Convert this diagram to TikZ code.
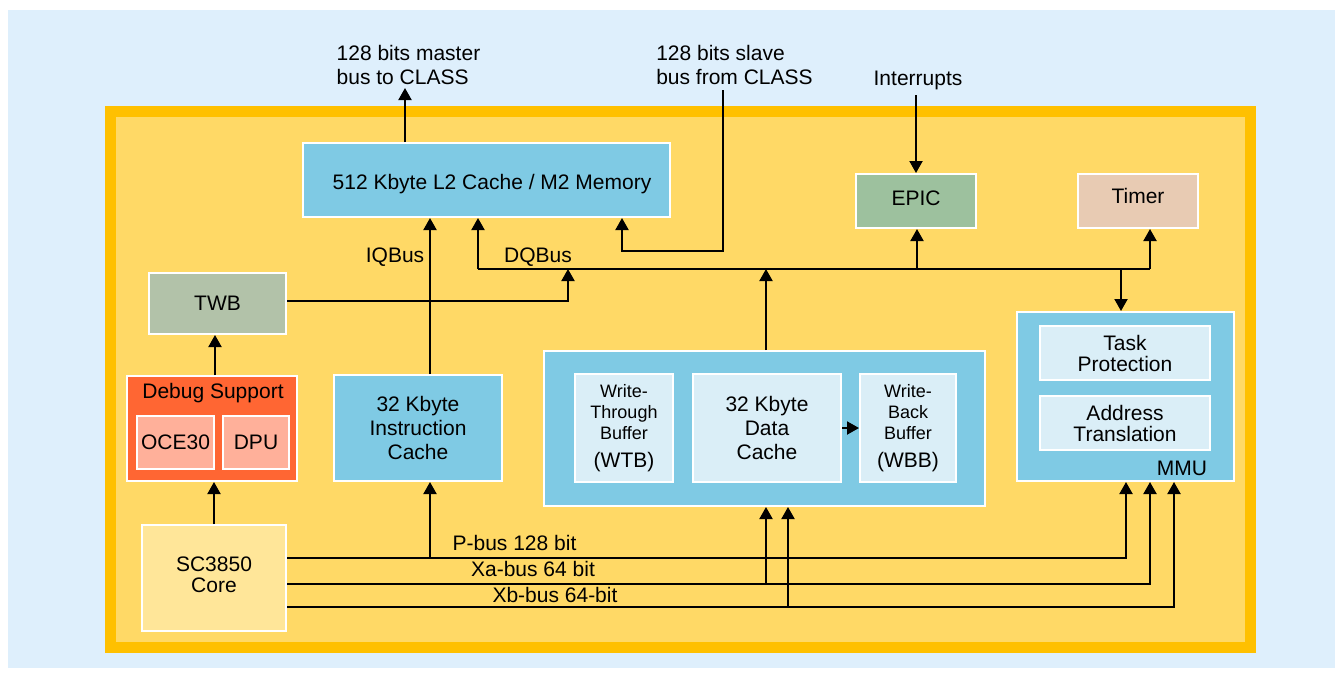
\documentclass[tikz,border=0pt]{standalone}
\usepackage{fontspec}
\setmainfont{Liberation Sans}
\usetikzlibrary{arrows.meta}
\definecolor{bgblue}{RGB}{222,239,252}
\definecolor{orangeb}{RGB}{255,192,0}
\definecolor{yellowin}{RGB}{255,217,102}
\definecolor{boxblue}{RGB}{127,202,228}
\definecolor{lightbox}{RGB}{218,238,247}
\definecolor{epicgreen}{RGB}{157,193,158}
\definecolor{timerc}{RGB}{232,203,179}
\definecolor{twbc}{RGB}{178,194,169}
\definecolor{debugc}{RGB}{255,102,51}
\definecolor{debugin}{RGB}{255,176,154}
\definecolor{corec}{RGB}{255,230,153}
\begin{document}
\begin{tikzpicture}[x=1pt,y=-1pt,
  box/.style={draw=white, line width=2pt, inner sep=0pt, align=center, font=\fontsize{21}{24}\selectfont},
  conn/.style={line width=2pt, -{Triangle[width=13pt,length=12pt]}},
  wire/.style={line width=2pt},
  lbl/.style={inner sep=0pt, font=\fontsize{21}{24}\selectfont, align=center}]
\useasboundingbox (0,0) rectangle (1341,673);
\fill[white] (0,0) rectangle (1341,673);
\fill[bgblue] (8,10) rectangle (1335,668);
\fill[orangeb] (105,106) rectangle (1256,653);
\fill[yellowin] (116,117) rectangle (1245,642);

% boxes
\node[box, fill=boxblue, minimum width=367pt, minimum height=74pt, text height=19pt, text depth=0pt] (L2) at (486.5,180) {\hspace*{11pt}512 Kbyte L2 Cache / M2 Memory};
\node[box, fill=epicgreen, minimum width=120pt, minimum height=54pt, text height=15pt, text depth=6pt] (EPIC) at (916,201) {EPIC};
\node[box, fill=timerc, minimum width=120pt, minimum height=54pt, text height=15pt, text depth=10pt] (Timer) at (1138,201) {Timer};
\node[box, fill=twbc, minimum width=137pt, minimum height=61pt] (TWB) at (217.5,303.5) {TWB};
\node[box, fill=debugc, minimum width=170pt, minimum height=105pt] (DBG) at (212,428.5) {};
\node[lbl] (DBGt) at (213,393) {Debug Support};
\node[box, fill=debugin, minimum width=77pt, minimum height=53pt] (OCE) at (175.5,442.5) {OCE30};
\node[box, fill=debugin, minimum width=66pt, minimum height=53pt] (DPU) at (256,442.5) {DPU};
\node[box, fill=boxblue, minimum width=168pt, minimum height=106pt] (IC) at (418,428) {32 Kbyte\\Instruction\\Cache};
\node[box, fill=boxblue, minimum width=441pt, minimum height=155pt] (DG) at (764.5,428.5) {};
\node[box, fill=lightbox, minimum width=98pt, minimum height=108pt, font=\fontsize{18}{21}\selectfont] (WTB) at (624,428) {Write-\\Through\\Buffer\\[7pt]{\fontsize{21}{24}\selectfont (WTB)}};
\node[box, fill=lightbox, minimum width=148pt, minimum height=108pt] (DC) at (767,428) {32 Kbyte\\Data\\Cache};
\node[box, fill=lightbox, minimum width=96pt, minimum height=108pt, font=\fontsize{18}{21}\selectfont] (WBB) at (908,428) {Write-\\Back\\Buffer\\[7pt]{\fontsize{21}{24}\selectfont (WBB)}};
\node[box, fill=boxblue, minimum width=217pt, minimum height=169pt] (MMU) at (1125.5,396.5) {};
\node[box, fill=lightbox, minimum width=170pt, minimum height=54pt, font=\fontsize{21}{21}\selectfont] (TP) at (1125,353) {Task\\Protection};
\node[box, fill=lightbox, minimum width=170pt, minimum height=54pt, font=\fontsize{21}{21}\selectfont] (AT) at (1125,423) {Address\\Translation};
\node[lbl] (MMUt) at (1182,468) {MMU};
\node[box, fill=corec, minimum width=144pt, minimum height=106pt, font=\fontsize{21}{21}\selectfont, text depth=6pt] (Core) at (214,578) {SC3850\\Core};

% labels
\node[lbl, align=left] (lm) at (408.5,65) {128 bits master\\bus to CLASS};
\node[lbl, align=left] (ls) at (734.5,65) {128 bits slave\\bus from CLASS};
\node[lbl] (li) at (918,80) {Interrupts};
\node[lbl] (liq) at (395,257) {IQBus};
\node[lbl] (ldq) at (538,257) {DQBus};
\node[lbl] (lp) at (514.5,543) {P-bus 128 bit};
\node[lbl] (lxa) at (533,569) {Xa-bus 64 bit};
\node[lbl] (lxb) at (555,595) {Xb-bus 64-bit};

% coordinates
\coordinate (xm) at (405,88);
\coordinate (xs) at (723,90);
\coordinate (xsr) at (622,251);
\coordinate (xi) at (916,95);
\coordinate (xiq) at (430,0);
\coordinate (dqL) at (478,269);
\coordinate (dqR) at (1150,269);
\coordinate (twbj) at (568,0);
\coordinate (twby) at (0,301);
\coordinate (xdg) at (766,0);
\coordinate (xdgb) at (788,0);
\coordinate (xep) at (917,0);
\coordinate (xmmu) at (1121,0);
\coordinate (xdbg) at (215,0);
\coordinate (xcore) at (214,0);
\coordinate (pR) at (1126,558);
\coordinate (xaR) at (1150,584);
\coordinate (xbR) at (1174,607);

% connectors
\draw[conn] (xm |- L2.north) -- (xm);
\draw[conn] (xs) |- (xsr) -- (xsr |- L2.south);
\draw[conn] (xi) -- (xi |- EPIC.north);
\draw[conn] (xiq |- IC.north) -- (xiq |- L2.south);
\draw[wire] (dqL) -- (dqR);
\draw[conn] (dqL) -- (dqL |- L2.south);
\draw[conn] (dqR) -- (dqR |- Timer.south);
\draw[conn] (TWB.east |- twby) -| (twbj |- dqL);
\draw[conn] (xdg |- DG.north) -- (xdg |- dqL);
\draw[conn] (xep |- dqL) -- (xep |- EPIC.south);
\draw[conn] (xmmu |- dqL) -- (xmmu |- MMU.north);
\draw[conn] (xdbg |- DBG.north) -- (xdbg |- TWB.south);
\draw[conn] (xcore |- Core.north) -- (xcore |- DBG.south);
\draw[conn] (DC.east) -- (WBB.west);
\draw[conn] (Core.east |- pR) -- (pR) -- (pR |- MMU.south);
\draw[conn] (Core.east |- xaR) -- (xaR) -- (xaR |- MMU.south);
\draw[conn] (Core.east |- xbR) -- (xbR) -- (xbR |- MMU.south);
\draw[conn] (xiq |- pR) -- (xiq |- IC.south);
\draw[conn] (xdg |- xaR) -- (xdg |- DG.south);
\draw[conn] (xdgb |- xbR) -- (xdgb |- DG.south);
\end{tikzpicture}
\end{document}
